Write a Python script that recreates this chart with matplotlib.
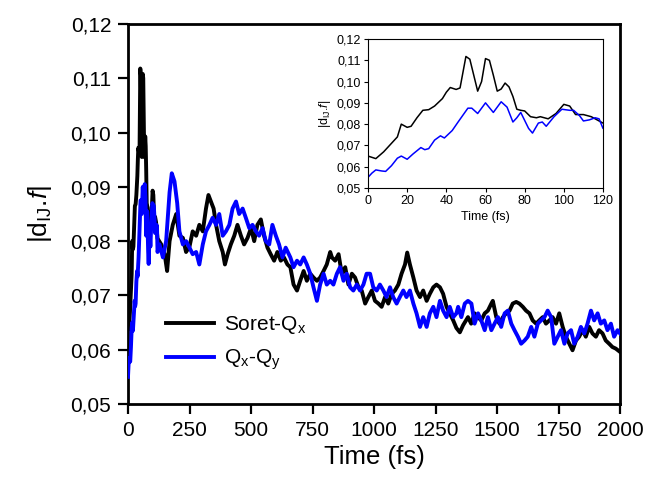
import matplotlib
matplotlib.use("Agg")
import matplotlib.pyplot as plt

plt.rcParams['font.family'] = ['Liberation Sans', 'DejaVu Sans']
plt.rcParams['mathtext.fontset'] = 'custom'
plt.rcParams['mathtext.rm'] = 'Liberation Sans'
plt.rcParams['mathtext.it'] = 'Liberation Sans:italic'
plt.rcParams['mathtext.bf'] = 'Liberation Sans:bold'

# ---------------- data ----------------
soret_t = [0, 4, 8, 12, 15, 17, 20, 22, 25, 28, 31, 34, 38, 40, 42, 45, 47, 50, 52, 54,
           56, 58, 60, 62, 64, 66, 68, 70, 72, 74, 76, 78, 80, 83, 86, 88, 92, 96, 100, 103,
           106, 110, 114, 117, 120,
           135, 149, 159, 169, 182, 196, 209, 223, 236, 250, 263, 277, 290, 304, 317, 327,
           337, 348, 358, 371, 385, 394, 405, 418, 432, 445, 459, 472, 486, 500, 513, 526,
           540, 553, 567, 580, 594, 607, 621, 634, 648, 660, 673, 687, 700, 714, 727, 741,
           754, 768, 781, 795, 808, 822, 829, 842, 856, 869, 883, 896, 910, 923, 937, 950,
           964, 977, 991, 1004, 1018, 1031, 1045, 1058, 1072, 1085, 1099, 1112, 1126, 1135,
           1146, 1160, 1173, 1187, 1200, 1214, 1227, 1241, 1254, 1268, 1281, 1295, 1308,
           1322, 1335, 1349, 1362, 1382, 1395, 1409, 1422, 1436, 1450, 1463, 1477, 1483,
           1497, 1510, 1524, 1537, 1551, 1564, 1578, 1591, 1605, 1618, 1632, 1645, 1659,
           1672, 1686, 1699, 1713, 1726, 1740, 1753, 1767, 1780, 1794, 1807, 1821, 1834,
           1848, 1861, 1875, 1888, 1902, 1915, 1929, 1942, 1956, 1969, 1983, 2000]
soret_v = [0.0650, 0.0638, 0.0670, 0.0710, 0.0740, 0.0800, 0.0785, 0.0790, 0.0830, 0.0865,
           0.0868, 0.0885, 0.0920, 0.0950, 0.0972, 0.0963, 0.0970, 0.1118, 0.1105, 0.1030,
           0.0955, 0.1000, 0.1108, 0.1100, 0.1030, 0.0955, 0.0965, 0.0993, 0.0975, 0.0930,
           0.0870, 0.0865, 0.0862, 0.0835, 0.0830, 0.0835, 0.0825, 0.0850, 0.0893, 0.0885,
           0.0845, 0.0845, 0.0835, 0.0820, 0.0805,
           0.0794, 0.0776, 0.0745, 0.0800, 0.0830, 0.0850, 0.0810, 0.0806, 0.0780, 0.0790,
           0.0818, 0.0810, 0.0830, 0.0818, 0.0860, 0.0885, 0.0873, 0.0860, 0.0830, 0.0800,
           0.0780, 0.0757, 0.0776, 0.0794, 0.0810, 0.0830, 0.0810, 0.0794, 0.0806, 0.0824,
           0.0800, 0.0830, 0.0840, 0.0810, 0.0788, 0.0776, 0.0764, 0.0780, 0.0764, 0.0770,
           0.0757, 0.0752, 0.0720, 0.0709, 0.0727, 0.0745, 0.0727, 0.0740, 0.0733, 0.0727,
           0.0733, 0.0745, 0.0757, 0.0780, 0.0770, 0.0764, 0.0776, 0.0740, 0.0752, 0.0720,
           0.0740, 0.0733, 0.0715, 0.0709, 0.0685, 0.0697, 0.0709, 0.0690, 0.0685, 0.0679,
           0.0697, 0.0685, 0.0703, 0.0709, 0.0720, 0.0740, 0.0757, 0.0779, 0.0757, 0.0733,
           0.0709, 0.0697, 0.0709, 0.0690, 0.0703, 0.0715, 0.0720, 0.0715, 0.0703, 0.0679,
           0.0667, 0.0654, 0.0640, 0.0632, 0.0645, 0.0660, 0.0648, 0.0667, 0.0660, 0.0654,
           0.0667, 0.0672, 0.0685, 0.0690, 0.0660, 0.0648, 0.0660, 0.0667, 0.0672, 0.0685,
           0.0688, 0.0685, 0.0679, 0.0672, 0.0667, 0.0654, 0.0648, 0.0654, 0.0660, 0.0648,
           0.0654, 0.0660, 0.0648, 0.0667, 0.0642, 0.0624, 0.0611, 0.0599, 0.0617, 0.0624,
           0.0636, 0.0624, 0.0642, 0.0630, 0.0624, 0.0636, 0.0630, 0.0617, 0.0611, 0.0605,
           0.0602, 0.0596]

qxqy_t = [0, 2, 4, 7, 9, 12, 15, 17, 20, 23, 27, 29, 31, 34, 37, 39, 43, 46, 51, 53,
          56, 60, 64, 68, 71, 74, 76, 78, 82, 84, 87, 89, 91, 95, 99, 103, 105, 108, 110,
          113, 116, 118, 120,
          128, 142, 155, 169, 178, 189, 200, 209, 223, 236, 250, 263, 277, 290, 304, 317,
          331, 344, 358, 371, 385, 398, 412, 425, 439, 452, 466, 479, 493, 506, 520, 533,
          547, 560, 574, 587, 601, 614, 628, 641, 660, 673, 687, 700, 714, 727, 741, 754,
          768, 781, 795, 808, 822, 835, 849, 862, 876, 889, 903, 916, 930, 943, 957, 970,
          984, 997, 1011, 1024, 1038, 1051, 1065, 1078, 1092, 1105, 1119, 1132, 1146, 1160,
          1173, 1187, 1200, 1214, 1227, 1241, 1254, 1268, 1281, 1295, 1308, 1322, 1335,
          1342, 1355, 1369, 1382, 1396, 1409, 1423, 1436, 1450, 1463, 1477, 1490, 1504,
          1517, 1531, 1544, 1558, 1571, 1585, 1598, 1612, 1625, 1639, 1652, 1666, 1679,
          1693, 1706, 1720, 1733, 1747, 1760, 1774, 1787, 1801, 1814, 1828, 1841, 1855,
          1868, 1882, 1895, 1909, 1922, 1936, 1949, 1963, 1976, 1990, 2000]
qxqy_v = [0.0550, 0.0570, 0.0585, 0.0580, 0.0578, 0.0605, 0.0640, 0.0650, 0.0635, 0.0660,
          0.0690, 0.0680, 0.0685, 0.0725, 0.0745, 0.0735, 0.0770, 0.0810, 0.0875, 0.0875,
          0.0850, 0.0900, 0.0855, 0.0905, 0.0880, 0.0810, 0.0830, 0.0855, 0.0780, 0.0758,
          0.0805, 0.0810, 0.0790, 0.0835, 0.0870, 0.0865, 0.0865, 0.0840, 0.0815, 0.0820,
          0.0830, 0.0825, 0.0780,
          0.0794, 0.0770, 0.0800, 0.0890, 0.0925, 0.0910, 0.0870, 0.0818, 0.0794, 0.0800,
          0.0788, 0.0776, 0.0780, 0.0757, 0.0794, 0.0818, 0.0830, 0.0843, 0.0830, 0.0850,
          0.0810, 0.0818, 0.0830, 0.0860, 0.0873, 0.0850, 0.0860, 0.0843, 0.0824, 0.0830,
          0.0818, 0.0810, 0.0824, 0.0800, 0.0794, 0.0830, 0.0810, 0.0794, 0.0770, 0.0788,
          0.0770, 0.0752, 0.0764, 0.0757, 0.0770, 0.0757, 0.0740, 0.0715, 0.0690, 0.0720,
          0.0740, 0.0720, 0.0727, 0.0720, 0.0740, 0.0752, 0.0727, 0.0740, 0.0715, 0.0709,
          0.0720, 0.0709, 0.0720, 0.0740, 0.0740, 0.0715, 0.0709, 0.0720, 0.0709, 0.0697,
          0.0715, 0.0697, 0.0685, 0.0697, 0.0709, 0.0697, 0.0709, 0.0685, 0.0667, 0.0642,
          0.0660, 0.0642, 0.0667, 0.0679, 0.0660, 0.0690, 0.0672, 0.0660, 0.0679, 0.0660,
          0.0667, 0.0679, 0.0660, 0.0685, 0.0690, 0.0685, 0.0648, 0.0667, 0.0654, 0.0636,
          0.0660, 0.0636, 0.0648, 0.0660, 0.0642, 0.0667, 0.0672, 0.0648, 0.0636, 0.0624,
          0.0611, 0.0617, 0.0624, 0.0642, 0.0624, 0.0648, 0.0654, 0.0660, 0.0672, 0.0660,
          0.0611, 0.0624, 0.0636, 0.0611, 0.0630, 0.0636, 0.0611, 0.0624, 0.0642, 0.0630,
          0.0648, 0.0672, 0.0654, 0.0667, 0.0648, 0.0654, 0.0636, 0.0648, 0.0624, 0.0636,
          0.0630]

series_labels = ['Soret-Q$_\\mathregular{x}$', 'Q$_\\mathregular{x}$-Q$_\\mathregular{y}$']
main_xticks = [0, 250, 500, 750, 1000, 1250, 1500, 1750, 2000]
yticks = [0.05, 0.06, 0.07, 0.08, 0.09, 0.10, 0.11, 0.12]
ytick_labels = ['0,05', '0,06', '0,07', '0,08', '0,09', '0,10', '0,11', '0,12']
inset_xticks = [0, 20, 40, 60, 80, 100, 120]

# ---------------- figure ----------------
W, H = 647, 488
fig = plt.figure(figsize=(W / 100, H / 100), dpi=100)
ax = fig.add_axes([128 / W, 1 - 404 / H, (620 - 128) / W, (404 - 24) / H])

ax.plot(soret_t, soret_v, color='black', lw=2.8, label=series_labels[0], zorder=2)
ax.plot(qxqy_t, qxqy_v, color='#0000ff', lw=2.8, label=series_labels[1], zorder=3)

ax.set_xlim(0, 2000)
ax.set_ylim(0.05, 0.12)
ax.set_xticks(main_xticks)
ax.set_xticklabels([str(v) for v in main_xticks])
ax.set_yticks(yticks)
ax.set_yticklabels(ytick_labels)
ax.tick_params(direction='out', length=7, width=1.6, labelsize=15, pad=5,
               top=False, right=False)
for s in ax.spines.values():
    s.set_linewidth(2.0)
ax.set_xlabel('Time (fs)', fontsize=18.5, labelpad=4)
ax.set_ylabel('|d$_\\mathregular{IJ}$.$\\mathit{f}$|', fontsize=19, labelpad=12)

leg = ax.legend(loc='upper left', bbox_to_anchor=(0.06, 0.258), frameon=False,
                fontsize=15, handlelength=2.3, handletextpad=0.5, labelspacing=0.55,
                borderaxespad=0)
for l in leg.get_lines():
    l.set_linewidth(2.8)

# ---------------- inset ----------------
ins = fig.add_axes([368 / W, 1 - 188 / H, (603 - 368) / W, (188 - 39) / H])
ins.plot(soret_t, soret_v, color='black', lw=1.1)
ins.plot(qxqy_t, qxqy_v, color='#0000ff', lw=1.1)
ins.set_xlim(0, 120)
ins.set_ylim(0.05, 0.12)
ins.set_xticks(inset_xticks)
ins.set_xticklabels([str(v) for v in inset_xticks])
ins.set_yticks(yticks)
ins.set_yticklabels(ytick_labels)
ins.tick_params(direction='out', length=3, width=0.8, labelsize=9, pad=2)
for s in ins.spines.values():
    s.set_linewidth(0.8)
ins.set_xlabel('Time (fs)', fontsize=9, labelpad=3)
ins.set_ylabel('|d$_\\mathregular{IJ}$.$\\mathit{f}$|', fontsize=9, labelpad=3)

fig.savefig('out.png', dpi=100)
